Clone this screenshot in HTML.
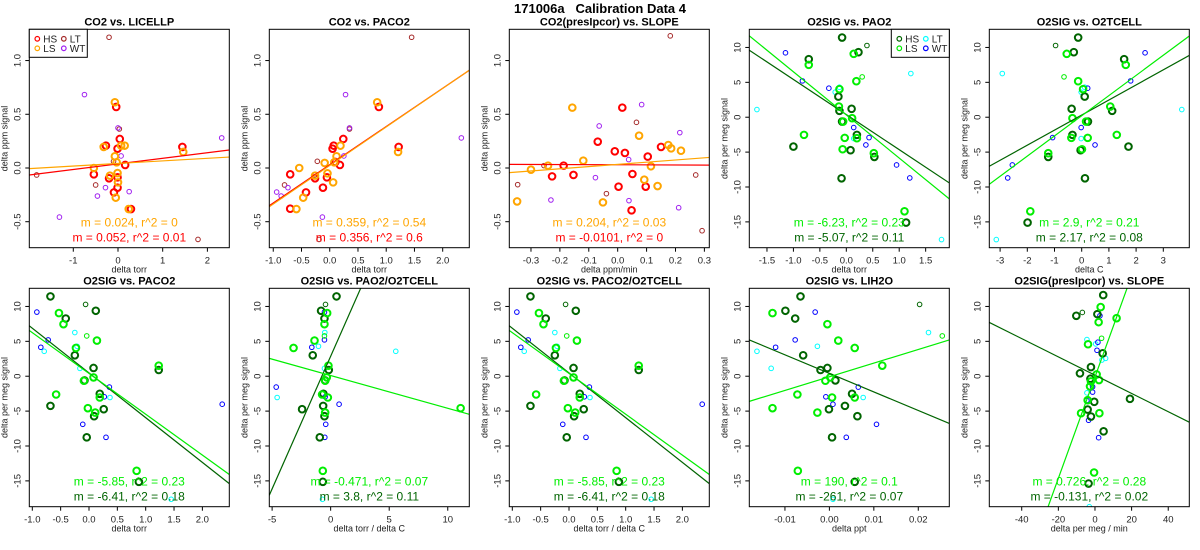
<!DOCTYPE html>
<html><head><meta charset="utf-8"><title>171006a Calibration Data 4</title>
<style>
html,body{margin:0;padding:0;background:#fff;width:1200px;height:550px;overflow:hidden;}
svg{display:block;font-family:"Liberation Sans",Arial,sans-serif;}
</style></head>
<body>
<svg id="chart" width="1200" height="550" viewBox="0 0 1200 550">
<text x="600" y="13" text-anchor="middle" font-size="13" font-weight="bold" style="white-space:pre" xml:space="preserve">171006a   Calibration Data 4</text>
</svg>
<script>
// ---- Panel 1: CO2 vs. LICELLP ----
const p1_HS=[[1.44,0.196],[-0.27,0.208],[0.04,0.27],[-0.04,0.568],[-0.01,0.18],[0.16,0.028],[-0.54,-0.059],[-0.2,-0.096],[-0.01,-0.087],[-0.01,-0.183],[-0.09,-0.227],[0.29,-0.382]];
const p1_LS=[[-0.07,0.612],[-0.32,0.196],[0.15,0.208],[0.07,0.208],[-0.07,0.109],[-0.03,0.053],[-0.54,0],[-0.18,-0.071],[-0.01,-0.047],[0,-0.134],[-0.05,-0.276],[1.46,0.149],[0.24,-0.382]];
const p1_LT=[[-0.2,1.217],[-1.82,-0.065],[-0.5,-0.158],[1.79,-0.665],[0.03,0.363],[-0.1,0.062]];
const p1_WT=[[-0.75,0.683],[2.32,0.28],[0,0.373],[0.07,0.112],[-1.31,-0.457],[-0.46,-0.261],[-0.28,-0.183],[0.25,-0.22]];
const p1_fitHS=[0.052,0.038], p1_fitLS=[0.024,0.042];
// ---- Panel 2: CO2 vs. PACO2 ----
const p2_HS=[[0.87,0.568],[1.22,0.196],[0.24,0.27],[0.07,0.208],[0.05,0.18],[0.18,0.028],[0.10,0.056],[-0.70,-0.059],[-0.26,-0.096],[-0.05,-0.087],[-0.12,-0.183],[-0.42,-0.227],[-0.70,-0.379]];
const p2_LS=[[0.84,0.612],[0.19,0.208],[0.12,0.109],[0.08,0.053],[-0.54,0],[-0.26,-0.071],[-0.09,0.047],[-0.04,-0.05],[0.06,-0.134],[-0.47,-0.276],[1.21,0.149],[-0.59,-0.382]];
const p2_LT=[[1.45,1.217],[-0.27,-0.065],[-0.22,0.062],[-0.8,-0.158],[-0.19,-0.665],[0.35,0.363]];
const p2_WT=[[0.28,0.683],[2.33,0.28],[0.35,0.373],[0.25,0.112],[-0.13,-0.457],[-0.86,-0.261],[-0.94,-0.224],[-0.74,-0.183]];
const p2_fitHS=[0.356,0.03], p2_fitLS=[0.359,0.023];
// ---- Panel 3: CO2(presIpcor) vs. SLOPE ----
const p3_HS=[[0.016,0.562],[-0.069,0.245],[-0.01,0.155],[0.025,0.14],[0.15,0.196],[0.104,0.106],[-0.187,0.022],[-0.227,-0.078],[-0.153,-0.065],[0.051,-0.056],[0.003,-0.174],[0.097,-0.174],[0.048,-0.394]];
const p3_LS=[[-0.157,0.562],[0.074,0.301],[0.175,0.214],[0.185,0.183],[0.219,0.161],[-0.119,0.068],[-0.241,0.022],[-0.3,-0.016],[0.115,0.016],[0.092,-0.109],[0.138,-0.168],[-0.051,-0.32],[-0.348,-0.311]];
const p3_LT=[[0.182,1.23],[0.065,0.425],[-0.346,-0.155],[-0.255,0.022],[-0.039,-0.239],[0.27,-0.065],[0.292,-0.584]];
const p3_WT=[[0.083,0.59],[-0.064,0.391],[0.215,0.329],[0.038,0.078],[-0.077,-0.09],[-0.231,-0.298],[0.039,-0.304],[0.211,-0.37]];
const p3_fitHS=[-0.0101,0.030], p3_fitLS=[0.204,0.0335];
// ---- Panel 4: O2SIG vs. PAO2 ----
const p4_HS=[[-0.08,11.42],[0.23,9.32],[-0.71,8.32],[-0.15,2.96],[-0.13,0.91],[0.10,1.2],[-0.08,-0.62],[0.20,-2.53],[-1.0,-4.21],[0.08,-4.73],[0.53,-5.69],[-0.09,-8.75],[1.13,-15.1]];
const p4_LS=[[0.14,9.08],[-0.71,7.5],[0.19,5.16],[-0.13,4.02],[-0.14,1.53],[0.11,-0.14],[-0.06,-0.62],[-0.8,-2.53],[-0.03,-2.96],[0.2,-3.01],[-0.07,-4.59],[0.52,-5.16],[1.10,-13.48]];
const p4_HSs=[[0.39,10.28]], p4_LSs=[[0.30,5.78]];
const p4_LT=[[-1.69,1.1],[1.22,6.26],[-0.21,3.59],[-0.13,4.3],[0.14,-3.06],[1.8,-17.54]];
const p4_WT=[[-1.15,9.23],[-0.83,5.21],[-0.33,4.16],[0.14,-1.48],[0.43,-2.92],[0.37,-3.97],[0.95,-6.84],[1.2,-8.7]];
const p4_fitHS=[-5.03,0.38], p4_fitLS=[-6.18,0.33];
// ---- Panel 5: O2SIG vs. O2TCELL ----
const p5_HS=[[-0.13,11.42],[-0.29,9.32],[1.56,8.32],[0.11,2.96],[-0.37,1.2],[1.12,0.91],[0.23,-0.62],[-0.34,-2.53],[1.72,-4.21],[-0.04,-4.73],[-1.23,-5.69],[0.12,-8.75],[-1.99,-15.1]];
const p5_LS=[[-0.55,9.08],[1.62,7.5],[-0.13,5.16],[0.05,4.02],[1.05,1.53],[-0.34,-0.14],[0.16,-0.62],[1.29,-2.53],[-0.38,-2.96],[0.22,-2.96],[0.01,-4.59],[-1.23,-5.16],[-1.89,-13.48]];
const p5_HSs=[[-0.96,10.28]], p5_LSs=[[-0.65,5.78]];
const p5_LT=[[-2.92,6.26],[3.68,1.1],[-0.02,3.59],[0.11,4.3],[-0.02,-3.06],[-3.14,-17.54]];
const p5_WT=[[2.33,9.23],[1.8,5.21],[0.22,4.16],[-0.02,-1.48],[-1.07,-2.92],[0.49,-3.97],[-2.55,-6.84],[-2.72,-8.7]];
const p5_fitHS=[2.16,0.31], p5_fitLS=[2.89,0.21];
// ---- Panel 6 / 8: O2SIG vs. PACO2 (and PACO2/O2TCELL) ----
const p6_HS=[[-0.68,11.44],[0.12,9.38],[-0.41,8.27],[-0.25,3.0],[0.08,1.18],[1.23,0.89],[-0.08,-0.6],[0.19,-2.52],[-0.68,-4.25],[0.26,-4.73],[0.09,-5.73],[-0.04,-8.76],[0.88,-15.14]];
const p6_LS=[[-0.53,9.05],[-0.45,7.46],[0.14,5.11],[-0.23,4.05],[1.23,1.51],[0.08,-0.17],[-0.09,-0.65],[-0.58,-2.62],[0.19,-3.05],[-0.02,-4.58],[0.11,-5.21],[0.84,-13.56]];
const p6_HSs=[[-0.06,10.29]], p6_LSs=[[-0.04,5.78]];
const p6_LT=[[-0.25,6.26],[-0.79,3.57],[-0.21,4.29],[-0.16,1.13],[0.37,-3.05],[1.45,-17.64]];
const p6_WT=[[-0.92,9.19],[-0.72,5.21],[-0.85,4.15],[0.36,-1.56],[0.27,-2.95],[2.35,-4.01],[-0.11,-6.89],[0.3,-8.76]];
const p6_fitHS=[-6.41,0.47], p6_fitLS=[-5.85,0.40];
// ---- Panel 7: O2SIG vs. PAO2/O2TCELL ----
const p7_HS=[[0.5,11.44],[-0.82,9.38],[-0.53,8.27],[-1.53,3.0],[-0.16,0.89],[-0.47,-0.6],[-0.62,-2.52],[-0.64,-4.25],[-2.44,-4.73],[-0.53,-5.73],[-0.93,-8.76],[-0.67,-15.14]];
const p7_LS=[[-0.3,9.05],[-0.53,7.46],[-1.38,5.11],[-3.17,4.05],[-0.19,1.51],[-0.33,-0.17],[-0.47,-0.65],[-0.73,-2.62],[-0.24,-3.05],[-0.47,-5.21],[11.1,-4.58],[-0.67,-13.56]];
const p7_HSs=[[-0.44,10.29]], p7_LSs=[[-0.53,5.78]];
const p7_LT=[[-0.5,6.26],[5.56,3.57],[-1.04,4.29],[-0.53,1.13],[-4.57,-3.05],[-0.7,-17.64]];
const p7_WT=[[-0.53,9.19],[-0.53,5.21],[-1.61,4.15],[-4.65,-1.56],[-0.47,-2.95],[0.72,-4.01],[-0.42,-6.89],[-0.5,-8.76]];
const p7_fitHS=[3.8,2.86], p7_fitLS=[-0.469,0.10];
// ---- Panel 9: O2SIG vs. LIH2O ----
const p9_HS=[[-0.0065,11.44],[-0.0099,9.38],[-0.0077,8.27],[-0.0059,3.0],[-0.00045,1.18],[-0.002,0.89],[0.00135,-0.6],[0.0051,-2.52],[0.0035,-4.25],[-0.0001,-4.73],[0.0063,-5.73],[0.0006,-8.76],[0.0057,-15.14]];
const p9_LS=[[-0.0128,9.05],[-0.00045,7.46],[0.002,5.11],[0.0057,4.05],[0.0119,1.51],[0.0002,-0.17],[-0.0009,-0.65],[-0.0072,-2.62],[0.0006,-3.05],[0.0057,-3.05],[-0.0128,-4.58],[-0.0027,-5.21],[-0.0071,-13.56]];
const p9_HSs=[[0.0203,10.29]], p9_LSs=[[0.0254,5.78]];
const p9_LT=[[0.0223,6.26],[-0.0163,3.57],[-0.0027,4.29],[-0.0131,1.13],[0.0076,-3.05],[0.0008,-17.64]];
const p9_WT=[[-0.0032,9.19],[-0.0077,5.21],[-0.0121,4.15],[0.0065,-1.56],[-0.0008,-2.95],[0.0008,-4.01],[0.0106,-6.89],[0.0038,-8.76]];
const p9_fitHS=[-266,0.41], p9_fitLS=[195.6,-0.08];
// ---- Panel 10: O2SIG(presIpcor) vs. SLOPE ----
const p10_HS=[[4.5,11.63],[1.3,8.9],[-10.2,8.66],[4.2,3.28],[-2.2,1.31],[-8.2,0.41],[-2.5,-0.36],[19.1,-3.24],[-0.4,-3.67],[-4.0,-4.78],[-2.2,-5.78],[4.7,-7.9],[-3.5,-15.38]];
const p10_LS=[[3.1,9.91],[11.8,8.32],[2.0,7.75],[-3.8,4.58],[0.9,0.26],[-2.2,-0.74],[-2.7,-1.46],[-4.0,-3.43],[-7.6,-5.3],[2.4,-5.3],[-0.5,-13.8],[2.2,-0.55]];
const p10_HSs=[[-6.9,9.14]], p10_LSs=[[3.6,5.44]];
const p10_LT=[[-4.4,5.25],[0.4,4.63],[3.8,2.32],[5.8,2.56],[-4.4,-2.38],[-3.1,-18.7]];
const p10_WT=[[2.7,8.66],[1.6,4.87],[1.1,3.72],[-1.3,-1.51],[-1.3,-2.28],[-4.4,-3.48],[-3.5,-6.31],[2.0,-8.81]];
const p10_fitHS=[-0.131,0.15], p10_fitLS=[0.726,-0.11];

// ---- tick values / labels ----
const coYTicks=[-0.5,0,0.5,1.0], coYLabels=["-0.5","0.0","0.5","1.0"];
const o2YTicks=[-15,-10,-5,0,5,10], o2YLabels=["-15","-10","-5","0","5","10"];
const x1Ticks=[-1,0,1,2], x1Labels=["-1","0","1","2"];
const xPacoTicks=[-1,-0.5,0,0.5,1,1.5,2], xPacoLabels=["-1.0","-0.5","0.0","0.5","1.0","1.5","2.0"];
const x3Ticks=[-0.3,-0.2,-0.1,0,0.1,0.2,0.3], x3Labels=["-0.3","-0.2","-0.1","0.0","0.1","0.2","0.3"];
const x4Ticks=[-1.5,-1,-0.5,0,0.5,1,1.5], x4Labels=["-1.5","-1.0","-0.5","0.0","0.5","1.0","1.5"];
const x5Ticks=[-3,-2,-1,0,1,2,3], x5Labels=["-3","-2","-1","0","1","2","3"];
const x7Ticks=[-5,0,5,10], x7Labels=["-5","0","5","10"];
const x9Ticks=[-0.01,0,0.01,0.02], x9Labels=["-0.01","0.00","0.01","0.02"];
const x10Ticks=[-40,-20,0,20,40], x10Labels=["-40","-20","0","20","40"];

const CO={HS:"#ff0000",LS:"#ffa500",LT:"#a52a2a",WT:"#a020f0"};
const OX={HS:"#006400",LS:"#00ee00",LT:"#00ffff",WT:"#0000ff"};
const coY=[-0.742,1.291], oY=[-18.7,12.6];

const panels=[
 {t:"CO2 vs. LICELLP",xd:[-1.984,2.49],yd:coY,xt:x1Ticks,xl:x1Labels,yt:coYTicks,yl:coYLabels,xlab:"delta torr",ylab:"delta ppm signal",c:CO,HS:p1_HS,LS:p1_LS,LT:p1_LT,WT:p1_WT,fHS:p1_fitHS,fLS:p1_fitLS,s1:"m = 0.024, r^2 = 0",s2:"m = 0.052, r^2 = 0.01",leg:"left"},
 {t:"CO2 vs. PACO2",xd:[-1.07,2.471],yd:coY,xt:xPacoTicks,xl:xPacoLabels,yt:coYTicks,yl:coYLabels,xlab:"delta torr",ylab:"delta ppm signal",c:CO,HS:p2_HS,LS:p2_LS,LT:p2_LT,WT:p2_WT,fHS:p2_fitHS,fLS:p2_fitLS,s1:"m = 0.359, r^2 = 0.54",s2:"m = 0.356, r^2 = 0.6"},
 {t:"CO2(presIpcor) vs. SLOPE",xd:[-0.375,0.317],yd:coY,xt:x3Ticks,xl:x3Labels,yt:coYTicks,yl:coYLabels,xlab:"delta ppm/min",ylab:"delta ppm signal",c:CO,HS:p3_HS,LS:p3_LS,LT:p3_LT,WT:p3_WT,fHS:p3_fitHS,fLS:p3_fitLS,s1:"m = 0.204, r^2 = 0.03",s2:"m = -0.0101, r^2 = 0"},
 {t:"O2SIG vs. PAO2",xd:[-1.834,1.947],yd:oY,xt:x4Ticks,xl:x4Labels,yt:o2YTicks,yl:o2YLabels,xlab:"delta torr",ylab:"delta per meg signal",c:OX,HS:p4_HS,LS:p4_LS,HSs:p4_HSs,LSs:p4_LSs,LT:p4_LT,WT:p4_WT,fHS:p4_fitHS,fLS:p4_fitLS,s1:"m = -6.23, r^2 = 0.23",s2:"m = -5.07, r^2 = 0.11",leg:"right"},
 {t:"O2SIG vs. O2TCELL",xd:[-3.397,3.956],yd:oY,xt:x5Ticks,xl:x5Labels,yt:o2YTicks,yl:o2YLabels,xlab:"delta C",ylab:"delta per meg signal",c:OX,HS:p5_HS,LS:p5_LS,HSs:p5_HSs,LSs:p5_LSs,LT:p5_LT,WT:p5_WT,fHS:p5_fitHS,fLS:p5_fitLS,s1:"m = 2.9, r^2 = 0.21",s2:"m = 2.17, r^2 = 0.08"},
 {t:"O2SIG vs. PACO2",xd:[-1.053,2.475],yd:oY,xt:xPacoTicks,xl:xPacoLabels,yt:o2YTicks,yl:o2YLabels,xlab:"delta torr",ylab:"delta per meg signal",c:OX,HS:p6_HS,LS:p6_LS,HSs:p6_HSs,LSs:p6_LSs,LT:p6_LT,WT:p6_WT,fHS:p6_fitHS,fLS:p6_fitLS,s1:"m = -5.85, r^2 = 0.23",s2:"m = -6.41, r^2 = 0.18"},
 {t:"O2SIG vs. PAO2/O2TCELL",xd:[-5.24,11.84],yd:oY,xt:x7Ticks,xl:x7Labels,yt:o2YTicks,yl:o2YLabels,xlab:"delta torr / delta C",ylab:"delta per meg signal",c:OX,HS:p7_HS,LS:p7_LS,HSs:p7_HSs,LSs:p7_LSs,LT:p7_LT,WT:p7_WT,fHS:p7_fitHS,fLS:p7_fitLS,s1:"m = -0.471, r^2 = 0.07",s2:"m = 3.8, r^2 = 0.11"},
 {t:"O2SIG vs. PACO2/O2TCELL",xd:[-1.053,2.475],yd:oY,xt:xPacoTicks,xl:xPacoLabels,yt:o2YTicks,yl:o2YLabels,xlab:"delta torr / delta C",ylab:"delta per meg signal",c:OX,HS:p6_HS,LS:p6_LS,HSs:p6_HSs,LSs:p6_LSs,LT:p6_LT,WT:p6_WT,fHS:p6_fitHS,fLS:p6_fitLS,s1:"m = -5.85, r^2 = 0.23",s2:"m = -6.41, r^2 = 0.18"},
 {t:"O2SIG vs. LIH2O",xd:[-0.01802,0.02698],yd:oY,xt:x9Ticks,xl:x9Labels,yt:o2YTicks,yl:o2YLabels,xlab:"delta ppt",ylab:"delta per meg signal",c:OX,HS:p9_HS,LS:p9_LS,HSs:p9_HSs,LSs:p9_LSs,LT:p9_LT,WT:p9_WT,fHS:p9_fitHS,fLS:p9_fitLS,s1:"m = 190, r^2 = 0.1",s2:"m = -261, r^2 = 0.07"},
 {t:"O2SIG(presIpcor) vs. SLOPE",xd:[-57.7,51.5],yd:oY,xt:x10Ticks,xl:x10Labels,yt:o2YTicks,yl:o2YLabels,xlab:"delta per meg / min",ylab:"delta per meg signal",c:OX,HS:p10_HS,LS:p10_LS,HSs:p10_HSs,LSs:p10_LSs,LT:p10_LT,WT:p10_WT,fHS:p10_fitHS,fLS:p10_fitLS,s1:"m = 0.726, r^2 = 0.28",s2:"m = -0.131, r^2 = 0.02"}
];

const NS="http://www.w3.org/2000/svg";
const svg=document.getElementById("chart");
function mk(tag,attrs,parent,txt){const e=document.createElementNS(NS,tag);for(const k in attrs)e.setAttribute(k,attrs[k]);if(txt!==undefined)e.textContent=txt;parent.appendChild(e);return e;}
function slug(s){return s.toLowerCase().replace(/[^a-z0-9]+/g,"-").replace(/^-|-$/g,"");}

panels.forEach((p,i)=>{
  const col=i%5,row=Math.floor(i/5);
  const L=29.3+240*col,T=row?288.3:29.3,W=200,H=218.4;
  const sx=v=>L+(v-p.xd[0])/(p.xd[1]-p.xd[0])*W;
  const sy=v=>T+H-(v-p.yd[0])/(p.yd[1]-p.yd[0])*H;
  const g=mk("g",{},svg);
  
  
  const cid="clip"+i;
  const cp=mk("clipPath",{id:cid},g);mk("rect",{x:L,y:T,width:W,height:H},cp);
  const tt=mk("text",{x:L+W/2,y:T-4,"text-anchor":"middle","font-size":"11","font-weight":"bold"},g,p.t);
  
  
  const ya=mk("g",{},g);
  
  
  p.yt.forEach((v,k)=>{const y=sy(v);
    mk("line",{x1:L-4,x2:L,y1:y,y2:y,stroke:"#000","stroke-width":1},ya);
    const t=mk("text",{x:0,y:0,transform:`translate(${L-9},${y}) rotate(-90)`,"text-anchor":"middle","font-size":"9.5",fill:"#222"},ya,p.yl[k]);
    
    });
  const yl=mk("text",{x:0,y:0,transform:`translate(${L-22},${T+H/2}) rotate(-90)`,"text-anchor":"middle","font-size":"9",fill:"#222"},g,p.ylab);
  
  
  const xa=mk("g",{},g);
  
  
  p.xt.forEach((v,k)=>{const x=sx(v);
    mk("line",{x1:x,x2:x,y1:T+H,y2:T+H+4,stroke:"#000","stroke-width":1},xa);
    const t=mk("text",{x:x,y:T+H+16,"text-anchor":"middle","font-size":"9.5",fill:"#222"},xa,p.xl[k]);
    
    });
  const xl=mk("text",{x:L+W/2,y:T+H+25,"text-anchor":"middle","font-size":"9",fill:"#222"},g,p.xlab);
  
  
  const pts=mk("g",{"clip-path":`url(#${cid})`,fill:"none"},g);
  
  
  const groups=[["LT",p.LT,2.3,1],["WT",p.WT,2.3,1],["HSs",p.HSs||[],2.3,1],["LSs",p.LSs||[],2.3,1],["HS",p.HS,3.3,2],["LS",p.LS,3.3,2]];
  groups.forEach(([name,arr,r,sw])=>{
    const col=p.c[name.slice(0,2)];
    arr.forEach(d=>{
      const c=mk("circle",{cx:sx(d[0]),cy:sy(d[1]),r:r,stroke:col,"stroke-width":sw},pts);
      
      
    });
  });
  [["HS",p.fHS],["LS",p.fLS]].forEach(([n,f])=>{
    const x0=p.xd[0],x1=p.xd[1];
    const ln=mk("line",{x1:sx(x0),y1:sy(f[1]+f[0]*x0),x2:sx(x1),y2:sy(f[1]+f[0]*x1),stroke:p.c[n],"stroke-width":1.2,"clip-path":`url(#${cid})`},g);
    
    
  });
  const s1=mk("text",{x:L+W/2,y:T+H-21,"text-anchor":"middle","font-size":"12",fill:p.c.LS},g,p.s1);
  
  
  const s2=mk("text",{x:L+W/2,y:T+H-6,"text-anchor":"middle","font-size":"12",fill:p.c.HS},g,p.s2);
  
  
  const bx=mk("rect",{x:L,y:T,width:W,height:H,fill:"none",stroke:"#000","stroke-width":1},g);
  
  
  if(p.leg){
    const lx=p.leg==="left"?L:L+W-58;
    const lg=mk("g",{},g);
    
    
    mk("rect",{x:lx,y:T,width:58,height:28,fill:"#fff",stroke:"#000","stroke-width":1},lg);
    [["HS",0,0],["LT",1,0],["LS",0,1],["WT",1,1]].forEach(([n,cx,cy])=>{
      const ex=lx+8+cx*26.5,ey=T+9.5+cy*9.5;
      const e=mk("g",{},lg);
      
      
      mk("circle",{cx:ex,cy:ey,r:2.3,fill:"none",stroke:p.c[n],"stroke-width":1.2},e);
      mk("text",{x:ex+6,y:ey+3.5,"font-size":"10",fill:"#222"},e,n);
    });
  }
});
</script>
</body></html>
